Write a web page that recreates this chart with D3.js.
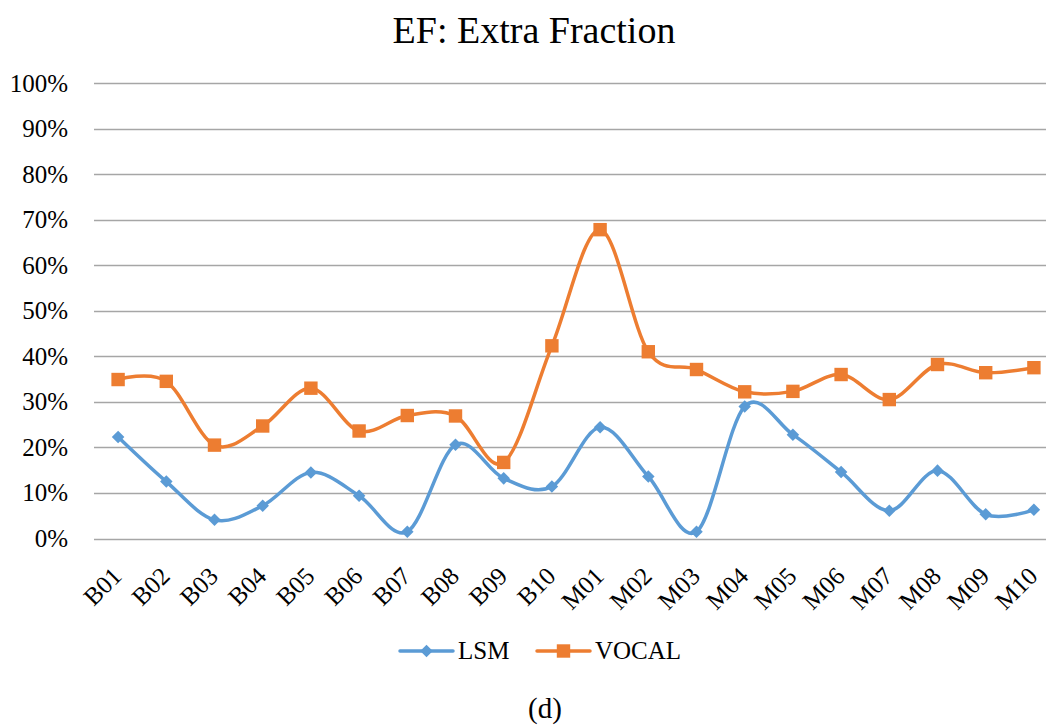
<!DOCTYPE html>
<html>
<head>
<meta charset="utf-8">
<script src="https://cdn.jsdelivr.net/npm/d3@7"></script>
<style>
  html, body { margin: 0; padding: 0; background: #fff; }
  svg { display: block; font-family: "Liberation Serif", "Times New Roman", serif; }
</style>
</head>
<body>
<svg id="chart"></svg>
<script>
// Chart size
const width = 1046;
const height = 725;

// Data
const categories = ["B01", "B02", "B03", "B04", "B05", "B06", "B07", "B08", "B09", "B10",
                    "M01", "M02", "M03", "M04", "M05", "M06", "M07", "M08", "M09", "M10"];
const lsm = [22.3, 12.5, 4.1, 7.2, 14.5, 9.4, 1.5, 20.6, 13.2, 11.4,
             24.4, 13.6, 1.5, 29.0, 22.8, 14.6, 6.1, 14.9, 5.3, 6.3];
const vocal = [34.9, 34.5, 20.5, 24.7, 33.0, 23.6, 27.0, 26.9, 16.7, 42.3,
               67.8, 41.0, 37.1, 32.2, 32.3, 36.0, 30.5, 38.2, 36.4, 37.5];
const yTicks = [0, 10, 20, 30, 40, 50, 60, 70, 80, 90, 100];

const series = [
  { name: "LSM", values: lsm, color: "#5B9BD5", marker: "diamond" },
  { name: "VOCAL", values: vocal, color: "#ED7D31", marker: "square" }
];

// Plot area
const plot = { left: 94, top: 83, right: 1058, bottom: 538.5 };

const svg = d3.select("#chart")
    .attr("width", width)
    .attr("height", height);

const x = d3.scaleBand()
    .domain(categories)
    .range([plot.left, plot.right]);

const y = d3.scaleLinear()
    .domain([0, 100])
    .range([plot.bottom, plot.top]);

// Title
svg.append("text")
    .attr("x", 534)
    .attr("y", 43)
    .attr("text-anchor", "middle")
    .attr("font-size", 38)
    .attr("fill", "#000")
    .text("EF: Extra Fraction");

// Gridlines
svg.append("g")
    .selectAll("line")
    .data(yTicks)
    .enter()
    .append("line")
    .attr("x1", plot.left)
    .attr("x2", plot.right)
    .attr("y1", d => Math.round(y(d)) + 0.5)
    .attr("y2", d => Math.round(y(d)) + 0.5)
    .attr("stroke", "#A6A6A6")
    .attr("stroke-width", 1.5);

// Y axis labels
const yAxis = d3.axisLeft(y)
    .tickValues(yTicks)
    .tickSize(0)
    .tickPadding(26)
    .tickFormat(d => d + "%");

svg.append("g")
    .attr("transform", `translate(${plot.left},0)`)
    .call(yAxis)
    .call(g => g.select(".domain").remove())
    .selectAll("text")
    .attr("font-family", "Liberation Serif, serif")
    .attr("font-size", 25)
    .attr("fill", "#000");

// X axis labels
const xAxis = d3.axisBottom(x).tickSize(0);

svg.append("g")
    .attr("transform", `translate(0,${plot.bottom})`)
    .call(xAxis)
    .call(g => g.select(".domain").remove())
    .selectAll("text")
    .attr("font-family", "Liberation Serif, serif")
    .attr("font-size", 25)
    .attr("fill", "#000")
    .attr("text-anchor", "end")
    .attr("dy", 0)
    .attr("transform", "translate(3,37) rotate(-45)");

// Lines
const line = d3.line()
    .x((d, i) => x(categories[i]) + x.bandwidth() / 2)
    .y(d => y(d))
    .curve(d3.curveCatmullRom.alpha(0));

const markerPath = {
  diamond: d3.symbol().type(d3.symbolDiamond2).size(100),
  square: d3.symbol().type(d3.symbolSquare).size(180)
};

series.forEach(s => {
  svg.append("path")
      .datum(s.values)
      .attr("d", line)
      .attr("fill", "none")
      .attr("stroke", s.color)
      .attr("stroke-width", 3.5)
      .attr("stroke-linejoin", "round");

  svg.append("g")
      .selectAll("path")
      .data(s.values)
      .enter()
      .append("path")
      .attr("d", markerPath[s.marker])
      .attr("transform", (d, i) => `translate(${x(categories[i]) + x.bandwidth() / 2},${y(d)})`)
      .attr("fill", s.color);
});

// Legend
const legendItems = [
  { name: "LSM", x: 400, color: "#5B9BD5", marker: "diamond" },
  { name: "VOCAL", x: 537, color: "#ED7D31", marker: "square" }
];

const legend = svg.append("g");
legendItems.forEach(item => {
  legend.append("line")
      .attr("x1", item.x)
      .attr("x2", item.x + 53)
      .attr("y1", 651)
      .attr("y2", 651)
      .attr("stroke", item.color)
      .attr("stroke-width", 3.5)
      .attr("stroke-linecap", "round");
  legend.append("path")
      .attr("d", markerPath[item.marker])
      .attr("transform", `translate(${item.x + 26.5},651)`)
      .attr("fill", item.color);
  legend.append("text")
      .attr("x", item.x + 58)
      .attr("y", 659)
      .attr("font-size", 25)
      .attr("fill", "#000")
      .text(item.name);
});

// Caption
svg.append("text")
    .attr("x", 545)
    .attr("y", 718)
    .attr("text-anchor", "middle")
    .attr("font-size", 29)
    .attr("fill", "#000")
    .text("(d)");
</script>
</body>
</html>
